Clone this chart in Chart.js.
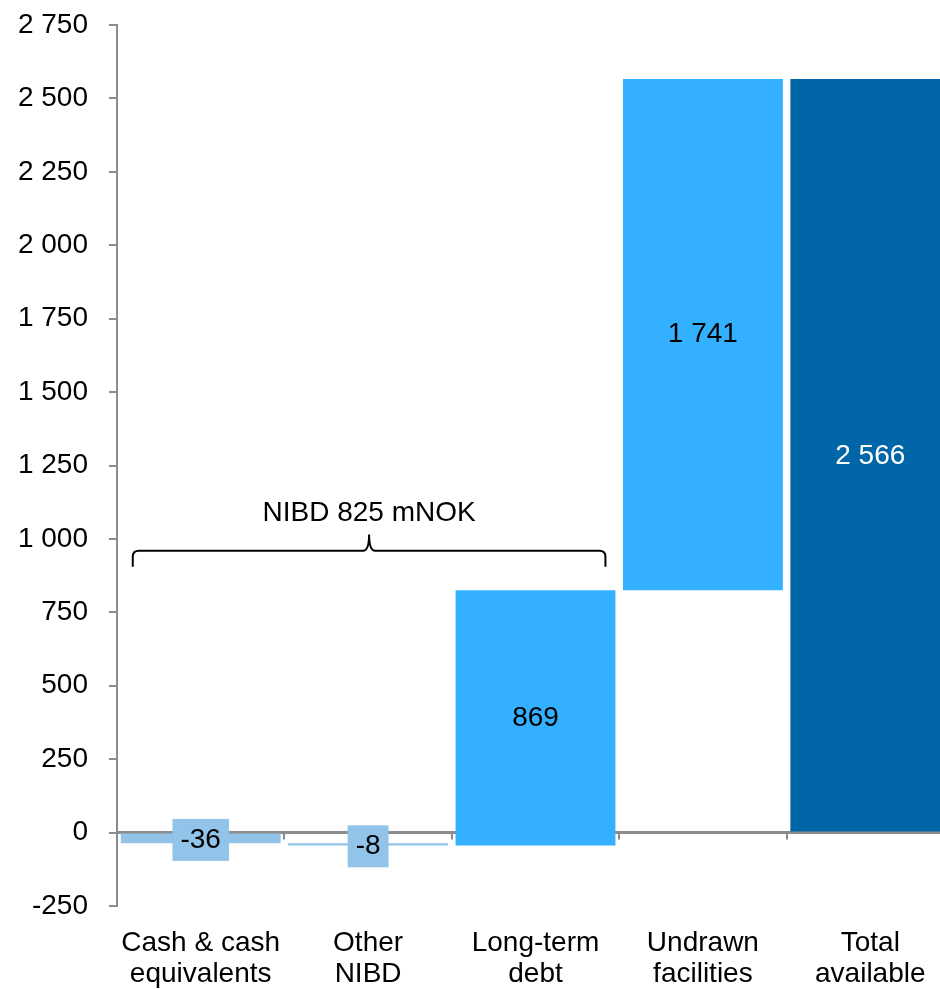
<!DOCTYPE html>
<html>
<head>
<meta charset="utf-8">
<script src="https://cdn.jsdelivr.net/npm/chart.js@4.4.1/dist/chart.umd.min.js"></script>
<style>
  html, body { margin: 0; padding: 0; background: #fff; overflow: hidden; }
  canvas { display: block; }
</style>
</head>
<body>
<canvas id="liquidityChart" width="960" height="989"></canvas>
<script>
// Waterfall data (mNOK)
const categories = [
  ["Cash & cash", "equivalents"],
  ["Other", "NIBD"],
  ["Long-term", "debt"],
  ["Undrawn", "facilities"],
  ["Total", "available"]
];
const changes = [-36, -8, 869, 1741];
const totalAvailable = 2566;
const valueLabels = ["-36", "-8", "869", "1 741", "2 566"];
const boxedLabels = [true, true, false, false, false];
const labelColors = ["#000", "#000", "#000", "#000", "#fff"];
const barColors = ["#92c3e8", "#92c3e8", "#33b0ff", "#33b0ff", "#0066a8"];
const yMin = -250;
const yMax = 2750;
const yStep = 250;
const bracketText = "NIBD 825 mNOK";
const bracketFrom = 0;   // first category under the bracket
const bracketTo = 2;     // last category under the bracket

const FONT = "'Liberation Sans', Arial, sans-serif";
const FONT_SIZE = 28;

// floating bars: each step starts where the previous one ended
let running = 0;
const ranges = changes.map((c) => {
  const r = [running, running + c];
  running += c;
  return r;
});
ranges.push([0, totalAvailable]);

const fmt = (v) => {
  const s = String(Math.abs(v)).replace(/\B(?=(\d{3})+(?!\d))/g, " ");
  return (v < 0 ? "-" : "") + s;
};

// zero line with category separators, drawn under the bars
const zeroAxis = {
  id: "zeroAxis",
  beforeDatasetsDraw(chart) {
    const { ctx, chartArea, scales } = chart;
    const y0 = scales.y.getPixelForValue(0);
    const step = (chartArea.right - chartArea.left) / categories.length;
    ctx.save();
    ctx.strokeStyle = "#8c8c8c";
    ctx.lineWidth = 3;
    ctx.beginPath();
    ctx.moveTo(chartArea.left, y0);
    ctx.lineTo(chartArea.right, y0);
    ctx.stroke();
    ctx.lineWidth = 2;
    for (let i = 1; i < categories.length; i++) {
      const x = Math.round(chartArea.left + i * step);
      ctx.beginPath();
      ctx.moveTo(x, y0);
      ctx.lineTo(x, y0 + 7);
      ctx.stroke();
    }
    ctx.restore();
  }
};

// value labels in the middle of each bar
const barLabels = {
  id: "barLabels",
  afterDatasetsDraw(chart) {
    const { ctx, scales } = chart;
    const meta = chart.getDatasetMeta(0);
    ctx.save();
    ctx.font = FONT_SIZE + "px " + FONT;
    ctx.textAlign = "center";
    ctx.textBaseline = "middle";
    meta.data.forEach((bar, i) => {
      const r = ranges[i];
      const y = (scales.y.getPixelForValue(r[0]) + scales.y.getPixelForValue(r[1])) / 2 + (boxedLabels[i] ? 2 : 0);
      const x = bar.x;
      if (boxedLabels[i]) {
        const w = ctx.measureText(valueLabels[i]).width + 16;
        ctx.fillStyle = barColors[i];
        ctx.fillRect(x - w / 2, y - 21, w, 42);
      }
      ctx.fillStyle = labelColors[i];
      ctx.fillText(valueLabels[i], x, y);
    });
    ctx.restore();
  }
};

// curly bracket over the NIBD bars
const nibdBracket = {
  id: "nibdBracket",
  afterDatasetsDraw(chart) {
    const { ctx, scales } = chart;
    const meta = chart.getDatasetMeta(0);
    const b0 = meta.data[bracketFrom];
    const b1 = meta.data[bracketTo];
    const left = b0.x - b0.width / 2 + 12;
    const right = b1.x + b1.width / 2 - 10;
    const mid = (left + right) / 2;
    const yLine = scales.y.getPixelForValue(960);
    const yTip = scales.y.getPixelForValue(1015);
    const yEnd = scales.y.getPixelForValue(905);
    const rad = 6;
    ctx.save();
    ctx.strokeStyle = "#000";
    ctx.lineWidth = 2;
    ctx.beginPath();
    ctx.moveTo(left, yEnd);
    ctx.lineTo(left, yLine + rad);
    ctx.quadraticCurveTo(left, yLine, left + rad, yLine);
    ctx.lineTo(mid - rad, yLine);
    ctx.quadraticCurveTo(mid, yLine, mid, yTip);
    ctx.quadraticCurveTo(mid, yLine, mid + rad, yLine);
    ctx.lineTo(right - rad, yLine);
    ctx.quadraticCurveTo(right, yLine, right, yLine + rad);
    ctx.lineTo(right, yEnd);
    ctx.stroke();
    ctx.font = FONT_SIZE + "px " + FONT;
    ctx.fillStyle = "#000";
    ctx.textAlign = "center";
    ctx.textBaseline = "middle";
    ctx.fillText(bracketText, mid, scales.y.getPixelForValue(1088));
    ctx.restore();
  }
};

const ctx = document.getElementById("liquidityChart").getContext("2d");
new Chart(ctx, {
  type: "bar",
  data: {
    labels: categories,
    datasets: [
      {
        data: ranges,
        backgroundColor: barColors,
        borderWidth: 0,
        categoryPercentage: 1,
        barPercentage: 0.955
      }
    ]
  },
  options: {
    responsive: false,
    animation: false,
    layout: { padding: { top: 0, right: 6, left: 0, bottom: 0 } },
    plugins: {
      legend: { display: false },
      tooltip: { enabled: false }
    },
    scales: {
      x: {
        grid: { display: false },
        border: { display: false },
        ticks: {
          color: "#000",
          font: { family: FONT, size: FONT_SIZE, lineHeight: 1.1 },
          padding: 14,
          maxRotation: 0,
          autoSkip: false
        },
        afterFit(scale) { scale.height = 83; }
      },
      y: {
        min: yMin,
        max: yMax,
        grid: {
          drawOnChartArea: false,
          drawTicks: true,
          tickLength: 8,
          color: "#8c8c8c",
          lineWidth: 2
        },
        border: { display: true, color: "#8c8c8c", width: 2 },
        ticks: {
          stepSize: yStep,
          color: "#000",
          font: { family: FONT, size: FONT_SIZE },
          padding: 21,
          callback: (v) => fmt(v)
        },
        afterFit(scale) {
          scale.width = 117;
          scale.paddingTop = 25;
          scale.paddingBottom = 0;
        }
      }
    }
  },
  plugins: [zeroAxis, barLabels, nibdBracket]
});
</script>
</body>
</html>
